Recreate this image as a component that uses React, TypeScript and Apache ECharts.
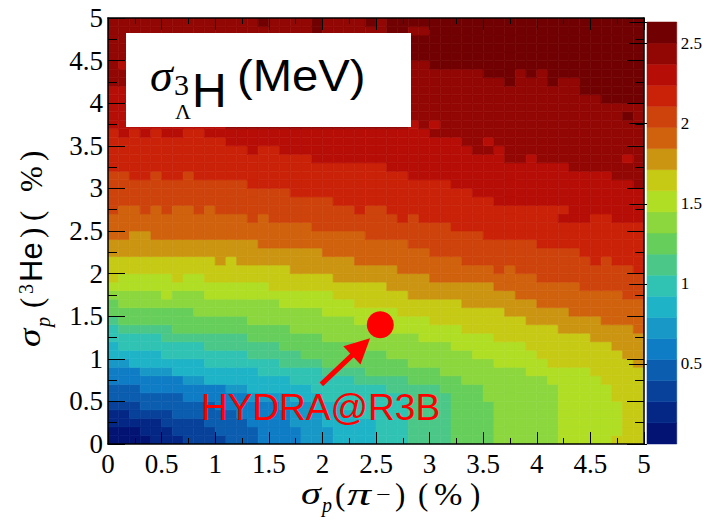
import React, { useEffect, useRef } from "react";
import * as echarts from "echarts";

// ---------------- data ----------------
const axisTickLabels = [0, 0.5, 1, 1.5, 2, 2.5, 3, 3.5, 4, 4.5, 5];
const cellWidth = 0.1; // bin width on both axes (50 x 50 bins)
const zMax = 2.635; // top of the colour scale (MeV)
const bandColors = [
  "#021374", "#042786", "#07419a", "#0b5daf", "#0f7cc6",
  "#1798c7", "#1fb3c8", "#30c3b4", "#4bc887", "#66ce5a",
  "#8cd63e", "#afde25", "#c6ca14", "#cb9511", "#d0610d",
  "#cd430b", "#c92209", "#b60d07", "#920604", "#710002",
];
const colorbarLabels = [0.5, 1, 1.5, 2, 2.5];

// colour band of the first bin in every row (row 0 = y 0..0.1)
const firstBand = [
  0, 0, 1, 1, 2, 3, 3, 4, 4, 5,
  6, 6, 7, 7, 8, 9, 9, 10, 11, 11,
  12, 12, 13, 13, 14, 14, 14, 14, 15, 15,
  15, 15, 16, 16, 16, 16, 17, 17, 17, 17,
  17, 17, 18, 18, 18, 18, 18, 18, 18, 18,
];
// bin columns at which the band goes up by one, per row
const bandSteps = [
  [4, 7, 11, 14, 18, 21, 25, 28, 32, 36, 42, 47],
  [3, 6, 10, 14, 18, 21, 25, 28, 32, 36, 42, 48],
  [5, 9, 13, 17, 20, 25, 28, 32, 36, 42, 48],
  [2, 6, 12, 17, 20, 23, 28, 32, 36, 42, 48],
  [3, 10, 16, 19, 22, 28, 32, 36, 42, 48],
  [7, 13, 17, 20, 28, 32, 35, 42, 47],
  [3, 11, 13, 19, 26, 31, 35, 42, 47],
  [7, 9, 17, 23, 28, 33, 41, 46],
  [3, 6, 14, 20, 24, 31, 39, 45],
  [2, 9, 16, 20, 28, 36, 41, 49],
  [5, 13, 18, 26, 34, 40, 48],
  [1, 9, 16, 23, 32, 39, 47],
  [5, 13, 20, 29, 36, 45],
  [1, 6, 17, 26, 33, 42, 49],
  [1, 13, 23, 30, 39, 46],
  [8, 20, 27, 37, 43],
  [1, 16, 23, 33, 40],
  [9, 21, 28, 38, 48],
  [15, 26, 36, 44],
  [9, 21, 30, 40],
  [17, 27, 36, 49],
  [12, 23, 33, 47],
  [20, 30, 44],
  [14, 28, 40],
  [24, 35],
  [19, 32],
  [15, 29, 42],
  [10, 26, 43],
  [21, 36],
  [17, 34],
  [13, 32, 49],
  [8, 28, 47],
  [26, 43],
  [19, 37],
  [16, 34],
  [11, 33],
  [30],
  [11],
  [11],
  [11],
  [11, 46],
  [6, 44],
  [37],
  [35],
  [30],
  [28],
  [28],
  [28],
  [30],
  [26],
];
// isolated bins that differ from their neighbours: [row, col, band]
const specks = [
  [17, 5, 11], [19, 0, 12], [19, 6, 12], [20, 37, 14], [21, 10, 13], [21, 45, 16],
  [24, 2, 13], [24, 3, 13], [26, 13, 15], [26, 27, 16], [26, 45, 16], [26, 46, 16],
  [27, 0, 15], [27, 3, 15], [27, 5, 15], [27, 8, 15], [27, 23, 16],
  [31, 2, 16], [31, 3, 16], [31, 5, 16], [31, 6, 16],
  [33, 39, 17], [33, 48, 17], [34, 13, 17], [34, 36, 17], [35, 35, 17],
  [36, 0, 16], [36, 2, 16], [36, 4, 16], [36, 7, 16], [36, 8, 16],
  [37, 28, 17], [37, 30, 17], [38, 48, 19],
  [42, 38, 18], [42, 39, 18], [42, 40, 18], [42, 42, 18], [42, 43, 18],
  [43, 38, 18], [43, 40, 18], [44, 1, 17],
  [48, 19, 19], [48, 26, 19], [48, 27, 19],
  [49, 14, 19], [49, 19, 19], [49, 24, 19],
];
const hydraPoint = [2.54, 1.4];
const arrowTail = [1.99, 0.7];
const arrowHead = [2.36, 1.14];

// ---------------- chart ----------------
export default function App() {
  const ref = useRef<HTMLDivElement>(null);

  useEffect(() => {
    document.body.style.margin = "0";
    const chart = echarts.init(ref.current!, null, { renderer: "svg" });

    const step = zMax / bandColors.length;
    const nCols = bandSteps.length;
    const bins: number[][] = firstBand.map((fb, r) => {
      const row: number[] = [];
      let b = fb;
      let k = 0;
      const st = bandSteps[r];
      for (let c = 0; c < nCols; c++) {
        while (k < st.length && st[k] <= c) {
          b++;
          k++;
        }
        row.push(b);
      }
      return row;
    });
    specks.forEach(([r, c, b]) => {
      bins[r][c] = b;
    });
    const cellData: number[][] = [];
    bins.forEach((row, r) =>
      row.forEach((b, c) => cellData.push([c * cellWidth, r * cellWidth, (b + 0.5) * step]))
    );
    const barData = bandColors.map((_, k) => [0, k * step, (k + 1) * step, k]);

    const serif = "Liberation Serif";
    const sans = "Liberation Sans";
    const tickLine = { color: "#000", width: 1 };
    const frame = { show: true, onZero: false, lineStyle: { color: "#000", width: 1.5 } };
    const isTick = (list: number[], v: number) => list.some((t) => Math.abs(t - v) < 1e-9);

    const mainX = (pos: "bottom" | "top", labels: boolean) => ({
      type: "value",
      gridIndex: 0,
      min: 0,
      max: 5,
      interval: 0.5,
      position: pos,
      z: 10,
      axisLine: frame,
      axisTick: { show: true, inside: true, length: 12, lineStyle: tickLine },
      minorTick: { show: true, splitNumber: 2, length: 6, lineStyle: tickLine },
      splitLine: { show: false },
      minorSplitLine: { show: false },
      axisLabel: {
        show: labels,
        margin: 6,
        fontFamily: serif,
        fontSize: 27,
        color: "#000",
        showMinLabel: true,
        showMaxLabel: true,
        formatter: (v: number) => (isTick(axisTickLabels, v) ? String(v) : ""),
      },
    });
    const mainY = (pos: "left" | "right", labels: boolean) => ({
      type: "value",
      gridIndex: 0,
      min: 0,
      max: 5,
      interval: 0.5,
      position: pos,
      z: 10,
      axisLine: frame,
      axisTick: { show: true, inside: true, length: 17, lineStyle: tickLine },
      minorTick: { show: true, splitNumber: 2, length: 9, lineStyle: tickLine },
      splitLine: { show: false },
      minorSplitLine: { show: false },
      axisLabel: {
        show: labels,
        margin: 5,
        fontFamily: serif,
        fontSize: 27,
        color: "#000",
        showMinLabel: true,
        showMaxLabel: true,
        formatter: (v: number) => (isTick(axisTickLabels, v) ? String(v) : ""),
      },
    });

    const txt = (
      text: string,
      x: number,
      baseline: number,
      size: number,
      family: string,
      fontStyle = "normal",
      color = "#000",
      extra: any = {}
    ) => ({
      type: "text",
      x,
      y: baseline - 0.34 * size,
      z: 101,
      silent: true,
      style: {
        text,
        fontSize: size,
        fontFamily: family,
        fontStyle,
        fill: color,
        align: "left",
        verticalAlign: "middle",
      },
      ...extra,
    });

    const option: any = {
      animation: false,
      backgroundColor: "#fff",
      grid: [
        { left: 108, top: 18, width: 536, height: 426 },
        { left: 647, top: 22, width: 32, height: 422 },
      ],
      xAxis: [
        mainX("bottom", true),
        mainX("top", false),
        { type: "value", gridIndex: 1, min: 0, max: 1, show: false },
      ],
      yAxis: [
        mainY("left", true),
        mainY("right", false),
        {
          type: "value",
          gridIndex: 1,
          min: 0,
          max: zMax,
          interval: 0.5,
          position: "right",
          z: 10,
          axisLine: { show: false },
          axisTick: { show: true, inside: true, length: 18, lineStyle: tickLine },
          splitLine: { show: false },
          axisLabel: {
            margin: 4,
            fontFamily: serif,
            fontSize: 17,
            color: "#000",
            formatter: (v: number) => (isTick(colorbarLabels, v) ? String(v) : ""),
          },
        },
      ],
      series: [
        {
          type: "custom",
          xAxisIndex: 0,
          yAxisIndex: 0,
          data: cellData,
          encode: { x: 0, y: 1 },
          clip: true,
          silent: true,
          z: 2,
          renderItem: (params: any, api: any) => {
            const x = api.value(0);
            const y = api.value(1);
            const v = api.value(2);
            const band = Math.min(bandColors.length - 1, Math.floor(v / step + 1e-9));
            const p0 = api.coord([x, y + cellWidth]);
            const p1 = api.coord([x + cellWidth, y]);
            const col = bandColors[band];
            return {
              type: "rect",
              shape: { x: p0[0], y: p0[1], width: p1[0] - p0[0], height: p1[1] - p0[1] },
              style: { fill: col, stroke: col, lineWidth: 0.6 },
            };
          },
        },
        {
          type: "custom",
          xAxisIndex: 2,
          yAxisIndex: 2,
          data: barData,
          encode: { x: 0, y: [1, 2] },
          silent: true,
          z: 2,
          renderItem: (params: any, api: any) => {
            const lo = api.value(1);
            const hi = api.value(2);
            const k = api.value(3);
            const a = api.coord([0, hi]);
            const b = api.coord([1, lo]);
            const col = bandColors[k];
            return {
              type: "rect",
              shape: { x: a[0], y: a[1], width: b[0] - a[0], height: b[1] - a[1] },
              style: { fill: col, stroke: col, lineWidth: 0.5 },
            };
          },
        },
        {
          type: "scatter",
          xAxisIndex: 0,
          yAxisIndex: 0,
          data: [hydraPoint],
          symbol: "circle",
          symbolSize: 27,
          itemStyle: { color: "#ff0000", opacity: 1 },
          silent: true,
          z: 6,
          markLine: {
            silent: true,
            symbol: ["none", "triangle"],
            symbolSize: 25,
            lineStyle: { color: "#ff0000", width: 5, type: "solid", opacity: 1 },
            itemStyle: { color: "#ff0000" },
            label: { show: false },
            emphasis: { disabled: true },
            data: [[{ coord: arrowTail }, { coord: arrowHead }]],
          },
        },
      ],
      graphic: [
        {
          type: "rect",
          z: 100,
          silent: true,
          shape: { x: 126, y: 33, width: 285, height: 94 },
          style: { fill: "#ffffff" },
        },
        txt("σ", 150, 91, 46, serif, "italic"),
        txt("3", 174, 95, 30, serif),
        txt("Λ", 175, 119, 22, serif),
        txt("H", 192, 107, 48, sans),
        txt("(MeV)", 237, 91, 45, sans, "normal", "#000", { scaleX: 1.05 }),
        txt("HYDRA@R3B", 201, 420, 37, sans, "normal", "#ff0000"),
        // x axis title
        txt("σ", 301, 504, 31, serif, "italic", "#000", { scaleX: 1.3 }),
        txt("p", 322, 512, 20, serif, "italic"),
        txt("(", 335, 505, 31, serif),
        txt("π", 347, 505, 31, serif, "italic", "#000", { scaleX: 1.55 }),
        txt("−", 376, 501, 20, serif, "normal", "#000", { scaleX: 1.3 }),
        txt(")", 395, 505, 31, serif),
        txt("(", 418, 505, 31, serif),
        txt("%", 434, 505, 31, serif, "normal", "#000", { scaleX: 1.1 }),
        txt(")", 470, 505, 31, serif),
        // y axis title (rotated)
        {
          type: "group",
          x: 42,
          y: 347,
          rotation: Math.PI / 2,
          z: 101,
          children: [
            txt("σ", 0, -2, 31, serif, "italic", "#000", { scaleX: 1.2 }),
            txt("p", 20, 8, 20, serif, "italic"),
            txt("(", 39, 0, 31, serif),
            txt("3", 53, -9, 20, serif),
            txt("He", 65, 0, 31, sans),
            txt(")", 109, 0, 31, serif),
            txt("(", 126, 0, 31, serif),
            txt("%", 155, 0, 31, serif),
            txt(")", 186, 0, 31, serif),
          ],
        },
      ],
    };

    chart.setOption(option);
    return () => chart.dispose();
  }, []);

  return <div ref={ref} style={{ width: 705, height: 524 }} />;
}
